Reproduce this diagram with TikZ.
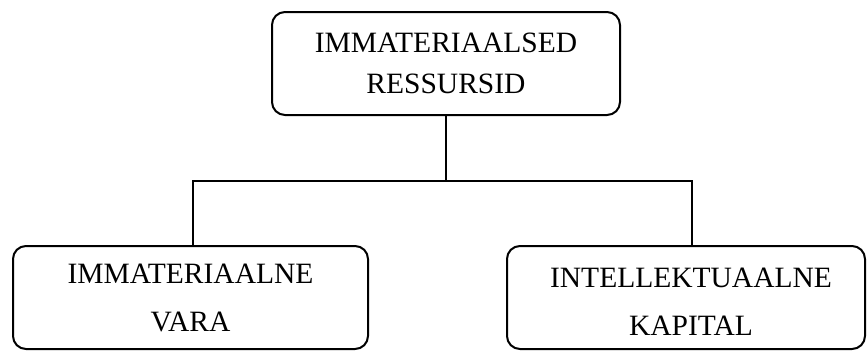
\documentclass[tikz,border=0pt]{standalone}
\usepackage{fontspec}
\setmainfont{Liberation Serif}
\begin{document}
\begin{tikzpicture}[x=1pt,y=-1pt,
  box/.style={draw=black, line width=2pt, rounded corners=13pt, inner sep=0pt, align=center},
  conn/.style={draw=black, line width=2pt}]
\useasboundingbox (0,0) rectangle (867,351);
\node[box, minimum width=348pt, minimum height=103pt, font=\fontsize{29.5}{41}\selectfont] (top) at (446,63.5) {IMMATERIAALSED\\RESSURSID};
\node[box, minimum width=355pt, minimum height=103pt, font=\fontsize{29.5}{48}\selectfont] (lbox) at (190.5,297.5) {IMMATERIAALNE\\VARA};
\node[box, minimum width=358pt, minimum height=103pt] (rbox) at (686,297.5) {};
\node[inner sep=0pt, align=center, font=\fontsize{29.5}{48}\selectfont] (rtext) at (691,302) {INTELLEKTUAALNE\\KAPITAL};
\coordinate (hl) at (193,181);
\coordinate (hr) at (692,181);
\coordinate (hm) at (446,181);
\draw[conn] (top.south) -- (hm);
\draw[conn] (lbox.north -| hl) -- (hl) -- (hr) -- (rbox.north -| hr);
\end{tikzpicture}
\end{document}
